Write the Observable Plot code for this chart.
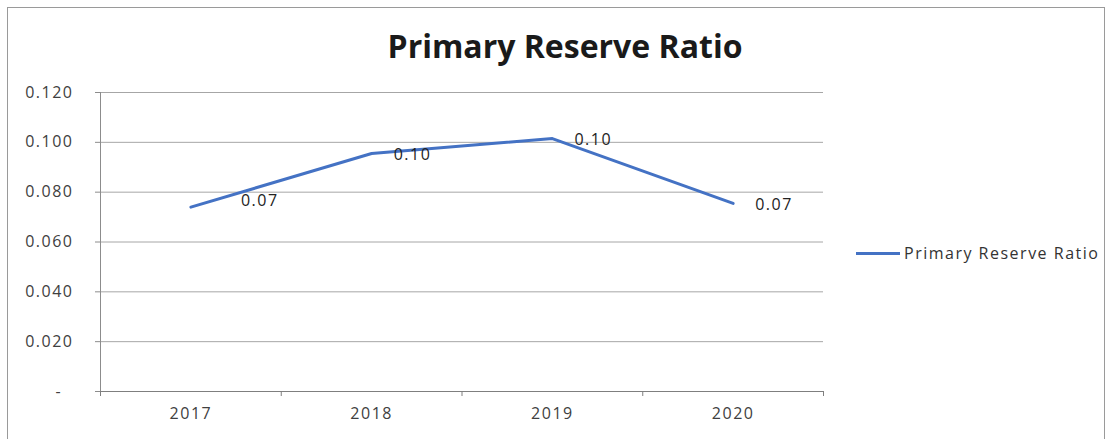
<!DOCTYPE html>
<html><head><meta charset="utf-8">
<script src="https://cdn.jsdelivr.net/npm/d3@7"></script>
<script src="https://cdn.jsdelivr.net/npm/@observablehq/plot@0.6"></script>
<style>
body{margin:0;background:#fff;}
#wrap{position:relative;width:1112px;height:439px;overflow:hidden;font-family:"Open Sans",sans-serif;background:#fff;}
#frame{position:absolute;left:7px;top:7px;width:1096px;height:460px;border:1px solid #9a9a9a;}
#title{position:absolute;left:0;top:30px;width:1130px;text-align:center;font-weight:bold;font-size:32px;color:#1a1a1a;line-height:1;}
#chart{position:absolute;left:0;top:70px;}
#legend{position:absolute;left:856px;top:242px;display:flex;align-items:center;font-size:16px;letter-spacing:1.5px;color:#333;}
#legend .sw{width:44px;height:3px;background:#4472C4;margin-right:4px;}
</style></head>
<body>
<div id="wrap">
  <div id="frame"></div>
  <div id="title">Primary Reserve Ratio</div>
  <div id="chart"></div>
  <div id="legend"><span class="sw"></span><span>Primary Reserve Ratio</span></div>
</div>
<script>
const years = ["2017", "2018", "2019", "2020"];
const ratios = [0.074, 0.0955, 0.1015, 0.0755];
const labels = ["0.07", "0.10", "0.10", "0.07"];
const yTicks = [0, 0.02, 0.04, 0.06, 0.08, 0.10, 0.12];
const seriesName = "Primary Reserve Ratio";

const data = years.map((yr, i) => ({pos: i + 0.5, year: yr, value: ratios[i], label: labels[i]}));
const bounds = d3.range(years.length + 1);
const centers = years.map((_, i) => i + 0.5);

const plot = Plot.plot({
  width: 1112,
  height: 369,
  marginLeft: 100,
  marginRight: 289,
  marginTop: 22,
  marginBottom: 48,
  style: {fontFamily: '"Open Sans", sans-serif', fontSize: "16px", color: "#404040", letterSpacing: "1.5px", background: "transparent"},
  x: {type: "linear", domain: [0, years.length]},
  y: {domain: [0, 0.12]},
  marks: [
    Plot.ruleY(yTicks.filter(d => d > 0), {stroke: "#a6a6a6", strokeWidth: 1}),
    Plot.axisY({ticks: yTicks, tickSize: 5, tickPadding: 22, stroke: "#8c8c8c",
      tickFormat: d => d === 0 ? "-\u00a0\u00a0" : d3.format(".3f")(d), label: null}),
    Plot.ruleX([0], {y1: 0, y2: 0.12, stroke: "#8c8c8c"}),
    Plot.ruleY([0], {stroke: "#7f7f7f"}),
    Plot.axisX({ticks: bounds, tickSize: 5, tickFormat: () => "", stroke: "#7f7f7f", label: null}),
    Plot.axisX({ticks: centers, tickSize: 0, tickPadding: 16, tickFormat: d => years[Math.floor(d)], label: null}),
    Plot.line(data, {x: "pos", y: "value", stroke: "#4472C4", strokeWidth: 3}),
    Plot.text(data.slice(0, 1), {x: "pos", y: "value", text: "label", textAnchor: "start", dx: 50, dy: -6, fill: "#222"}),
    Plot.text(data.slice(1), {x: "pos", y: "value", text: "label", textAnchor: "start", dx: 22, dy: 1, fill: "#222"})
  ]
});
document.getElementById("chart").appendChild(plot);
</script>
</body></html>
